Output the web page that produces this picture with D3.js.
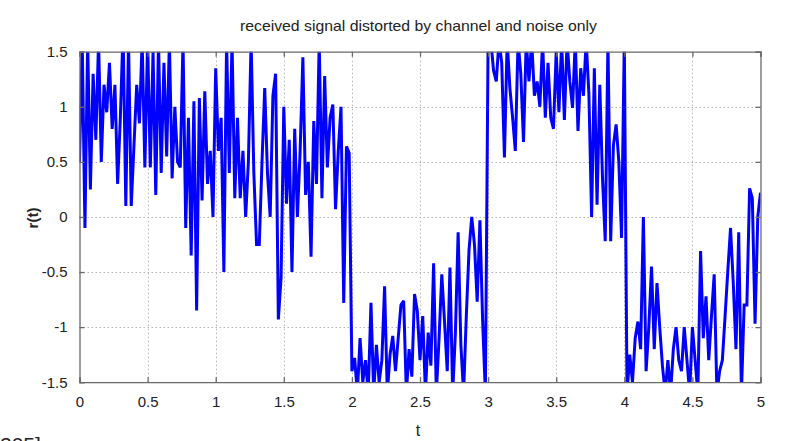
<!DOCTYPE html>
<html>
<head>
<meta charset="utf-8">
<script src="https://cdn.jsdelivr.net/npm/d3@7"></script>
<style>
  html, body { margin: 0; padding: 0; background: #fff; overflow: hidden; }
  svg { display: block; }
  text { font-family: "Liberation Sans Narrow", "Liberation Sans", Arial, sans-serif; fill: #222; }
</style>
</head>
<body>
<svg id="chart" width="785" height="441"></svg>
<script>
// ---- data ----
const titleText = "received signal distorted by channel and noise only";
const xLabel = "t";
const yLabel = "r(t)";
const xTicks = [0, 0.5, 1, 1.5, 2, 2.5, 3, 3.5, 4, 4.5, 5];
const yTicks = [-1.5, -1, -0.5, 0, 0.5, 1, 1.5];
const xDomain = [0, 5];
const yDomain = [-1.5, 1.5];
const sampleStep = 0.02;   // sampling interval of r(t)

// r(t) samples, one array per symbol interval
const r_0_1 = [0.5, 1.6, -0.1, 1.6, 0.25, 1.3, 0.7, 1.6, 0.5, 1.2, 0.95, 1.4, 0.8, 1.2, 0.3, 0.9, 1.7, 0.1, 1.6, 0.1, 0.65, 1.2, 0.85, 1.6, 0.45,
  1.6, 0.45, 1.5, 0.2, 1.6, 0.4, 1.4, 0.55, 1.6, 0.35, 1.0, 0.5, 0.45, 1.6, -0.1, 0.9, -0.35, 1.05, -0.85, 1.08, 0.15, 1.14, 0.3, 0.6, 0.0];
const r_1_2 = [1.35, 0.6, 0.9, -0.5, 1.6, 0.4, 1.6, 0.17, 0.9, 0.17, 0.6, 0.0, 0.5, 1.6, 0.4, -0.25, -0.25, 0.5, 1.17, 0.4,
  0.0, 1.1, 1.3, -0.93, -0.55, 1.0, 0.12, 0.7, -0.5, 0.8, 0.0, 0.6, 1.45, 0.2, 0.5, -0.36, 0.87, 0.3, 1.6, 0.17, 1.28, 0.45, 0.9, 1.02, 0.07, 0.6, 1.0, -0.78, 0.64, 0.58];
const r_2_3 = [-1.4, -1.28, -1.6, -1.1, -1.5, -1.3, -1.6,
  -0.78, -1.6, -1.16, -1.5, -1.3, -0.63, -1.6, -1.25, -1.08, -1.4, -1.1, -0.8, -0.76, -1.6, -1.2, -1.45, -0.7, -0.85, -1.3, -0.9, -1.6, -1.05, -1.35, -0.42, -1.6, -1.1, -0.52, -0.95, -1.4, -0.46, -1.6, -1.05, -0.14, -1.16, -1.6, -0.9,
  -0.3, 0.0, -0.25, -0.77, -0.03, -0.95, -1.6];
const r_3_4 = [1.6, 1.6, 1.33, 1.23, 1.6, 1.4, 0.54, 1.6, 1.17, 0.9, 0.6, 1.6, 1.3, 0.68, 1.6, 1.23, 1.6, 1.1, 1.23, 1.0, 1.6, 0.9, 1.4, 0.9, 0.8,
  1.5, 0.95, 1.6, 0.88, 1.6, 1.23, 0.99, 1.6, 0.78, 1.35, 1.1, 1.6, 1.12, 0.0, 1.35, 0.11, 1.2, 0.35, -0.22, 1.6, -0.22, 0.65, 0.84, 0.5, -0.19];
const r_4_5 = [1.6, -1.6, -1.25, -1.5, -1.1, -0.95, -1.2, 0.0, -1.4, -1.0, -0.45, -1.2, -0.6, -1.0, -1.35, -1.6, -1.3, -1.6, -1.2, -1.0, -1.3, -1.4, -1.0, -1.3, -1.6,
  -1.0, -1.3, -1.6, -0.31, -1.1, -0.72, -1.3, -0.9, -0.52, -1.6, -1.4, -1.3, -0.9, -0.49, -0.1, -0.6, -1.2, -0.14, -1.6, -0.8, -0.8, 0.26, 0.17, -0.97, 0.0, 0.22];

const rValues = [].concat(r_0_1, r_1_2, r_2_3, r_3_4, r_4_5);
const samples = rValues.map((v, i) => ({ t: +(i * sampleStep).toFixed(4), r: v }));

// ---- layout ----
const svg = d3.select("#chart");
const margin = { left: 79.5, right: 785 - 760.5, top: 51.7, bottom: 441 - 382.2 };
const W = 785, H = 441;
const x = d3.scaleLinear().domain(xDomain).range([margin.left, W - margin.right]);
const y = d3.scaleLinear().domain(yDomain).range([H - margin.bottom, margin.top]);

svg.append("rect").attr("width", W).attr("height", H).attr("fill", "#fff");

// grid
const grid = svg.append("g").attr("stroke", "#b5b5b5").attr("stroke-width", 1).attr("stroke-dasharray", "1.5,2.5");
grid.selectAll("line.gx").data(xTicks.slice(1, -1)).join("line")
  .attr("x1", d => Math.round(x(d)) + 0.5).attr("x2", d => Math.round(x(d)) + 0.5)
  .attr("y1", y(yDomain[0])).attr("y2", y(yDomain[1]));
grid.selectAll("line.gy").data(yTicks.slice(1, -1)).join("line")
  .attr("y1", d => Math.round(y(d)) + 0.5).attr("y2", d => Math.round(y(d)) + 0.5)
  .attr("x1", x(xDomain[0])).attr("x2", x(xDomain[1]));

// clip
svg.append("clipPath").attr("id", "clip").append("rect")
  .attr("x", x(xDomain[0])).attr("y", y(yDomain[1]))
  .attr("width", x(xDomain[1]) - x(xDomain[0])).attr("height", y(yDomain[0]) - y(yDomain[1]));

// signal
const line = d3.line().x(d => x(d.t)).y(d => y(d.r));
svg.append("path").datum(samples)
  .attr("clip-path", "url(#clip)")
  .attr("fill", "none").attr("stroke", "#0000ff").attr("stroke-width", 3)
  .attr("stroke-linejoin", "miter").attr("stroke-miterlimit", 2)
  .attr("d", line);

// axes (ticks inside, on all four sides)
const tickLen = -5;
const fmt = d => String(d);
const axB = svg.append("g").attr("transform", `translate(0,${y(yDomain[0])})`)
  .call(d3.axisBottom(x).tickValues(xTicks).tickSize(tickLen).tickPadding(14).tickFormat(fmt));
const axT = svg.append("g").attr("transform", `translate(0,${y(yDomain[1])})`)
  .call(d3.axisTop(x).tickValues(xTicks).tickSize(tickLen).tickFormat(""));
const axL = svg.append("g").attr("transform", `translate(${x(xDomain[0])},0)`)
  .call(d3.axisLeft(y).tickValues(yTicks).tickSize(tickLen).tickPadding(12).tickFormat(fmt));
const axR = svg.append("g").attr("transform", `translate(${x(xDomain[1])},0)`)
  .call(d3.axisRight(y).tickValues(yTicks).tickSize(tickLen).tickFormat(""));
[axB, axT, axL, axR].forEach(a => {
  a.select(".domain").attr("stroke", "#6a6a6a").attr("stroke-width", 1.3);
  a.selectAll(".tick line").attr("stroke", "#6a6a6a").attr("stroke-width", 1.3);
  a.selectAll(".tick text").attr("font-size", 15).attr("fill", "#2a2a2a")
    .attr("font-family", '"Liberation Sans Narrow", "Liberation Sans", Arial, sans-serif');
});

// title and labels
svg.append("text").attr("x", 418.5).attr("y", 31).attr("text-anchor", "middle")
  .attr("font-size", 14.5).attr("fill", "#222")
  .attr("textLength", 357).attr("lengthAdjust", "spacingAndGlyphs")
  .text(titleText);
svg.append("text").attr("transform", "translate(38,218) rotate(-90)").attr("text-anchor", "middle")
  .attr("font-size", 15).attr("font-weight", "bold").attr("fill", "#333").text(yLabel);
svg.append("text").attr("x", 418).attr("y", 436).attr("text-anchor", "middle")
  .attr("font-size", 16).attr("fill", "#333").text(xLabel);

// reference mark that sits, cut off, at the bottom-left edge of the original picture
svg.append("text").attr("x", 0).attr("y", 452).attr("font-size", 21)
  .attr("font-family", "DejaVu Sans, sans-serif").attr("fill", "#333").text("205]");
</script>
</body>
</html>
